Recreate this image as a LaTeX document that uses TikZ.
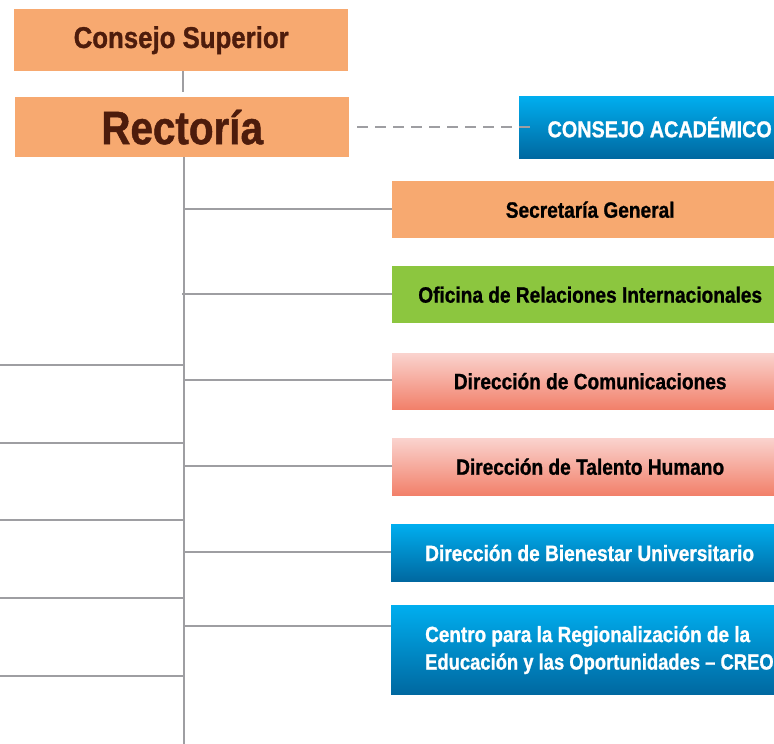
\documentclass[tikz,border=0pt]{standalone}
\usepackage{fontspec}
\usepackage{graphicx}
\newfontfamily\cond[FakeStretch=0.86, FakeBold=1]{Liberation Sans}
\definecolor{orng}{HTML}{F7A970}
\definecolor{brwn}{HTML}{4D1C0C}
\definecolor{grn}{HTML}{8CC63F}
\definecolor{pinktop}{HTML}{FAD3CE}
\definecolor{pinkbot}{HTML}{F2806A}
\definecolor{bluetop}{HTML}{00AEEF}
\definecolor{bluebot}{HTML}{0068A0}
\definecolor{lgray}{HTML}{9E9EA2}
\tikzset{
  box/.style={rectangle, inner sep=0pt, anchor=north west, font=\cond\bfseries},
  orbox/.style={box, fill=orng},
  grbox/.style={box, fill=grn},
  pkbox/.style={box, top color=pinktop, bottom color=pinkbot},
  blbox/.style={box, top color=bluetop, bottom color=bluebot, text=white},
  conn/.style={draw=lgray, line width=2pt},
  dconn/.style={draw=lgray, line width=2.5pt, dash pattern=on 11pt off 7pt},
  sm/.style={font=\cond\bfseries\fontsize{22.2}{24}\selectfont},
}
\begin{document}
\begin{tikzpicture}[x=1pt,y=-1pt]
\useasboundingbox (0,0) rectangle (774,744);
% top boxes
\node[orbox, minimum width=334pt, minimum height=62pt, text=brwn, font=\cond\bfseries\fontsize{30}{32}\selectfont] (cs) at (14,9) {Consejo Superior};
\node[orbox, minimum width=334pt, minimum height=60pt, text=brwn, font=\cond\bfseries\fontsize{47}{49}\selectfont] (rec) at (15,97) {Rectoría};
\node[blbox, minimum width=281pt, minimum height=62pt, font=\cond\bfseries\fontsize{23}{25}\selectfont] (ca) at (519,96) {CONSEJO ACADÉMICO};
% right column
\node[orbox, minimum width=396pt, minimum height=57pt, sm] (sg) at (392,181) {Secretaría General};
\node[grbox, minimum width=396pt, minimum height=57pt, sm] (ori) at (392,266) {Oficina de Relaciones Internacionales};
\node[pkbox, minimum width=396pt, minimum height=56pt, sm] (dc) at (392,353) {Dirección de Comunicaciones};
\node[pkbox, minimum width=396pt, minimum height=57pt, sm] (dth) at (392,438) {Dirección de Talento Humano};
\node[blbox, minimum width=396pt, minimum height=57pt] (dbu) at (391,524) {};
\node[anchor=west, inner sep=0pt, text=white, sm] (dbut) at (425,553) {Dirección de Bienestar Universitario};
\node[blbox, minimum width=396pt, minimum height=89pt] (creo) at (391,605) {};
\node[anchor=west, inner sep=0pt, align=left, text=white, font=\cond\bfseries\fontsize{22}{27.5}\selectfont] (creot) at (425,650) {Centro para la Regionalización de la\\\scalebox{0.972}[1]{Educación y las Oportunidades – CREO}};
% trunk
\coordinate (tb) at (184,744);
\coordinate (r1) at (184,209);
\coordinate (r2) at (184,294);
\coordinate (r3) at (184,380);
\coordinate (r4) at (184,466);
\coordinate (r5) at (184,552);
\coordinate (r6) at (184,626);
\coordinate (l1) at (184,365);
\coordinate (l2) at (184,443);
\coordinate (l3) at (184,520);
\coordinate (l4) at (184,598);
\coordinate (l5) at (184,676);
\coordinate (e1) at (0,365);
\coordinate (e2) at (0,443);
\coordinate (e3) at (0,520);
\coordinate (e4) at (0,598);
\coordinate (e5) at (0,676);
\coordinate (de) at (532,127);
\draw[conn] (cs.south -| 183,0) -- (183,92);
\draw[dconn] (357,127) -- (de);
\draw[conn] (rec.south -| tb) -- (tb);
\draw[conn] (r1) -- (r1 -| sg.west);
\draw[conn] (182,294) -- (r2 -| ori.west);
\draw[conn] (r3) -- (r3 -| dc.west);
\draw[conn] (r4) -- (r4 -| dth.west);
\draw[conn] (r5) -- (r5 -| dbu.west);
\draw[conn] (r6) -- (r6 -| creo.west);
\draw[conn] (l1) -- (e1);
\draw[conn] (l2) -- (e2);
\draw[conn] (l3) -- (e3);
\draw[conn] (l4) -- (e4);
\draw[conn] (l5) -- (e5);
\end{tikzpicture}
\end{document}
